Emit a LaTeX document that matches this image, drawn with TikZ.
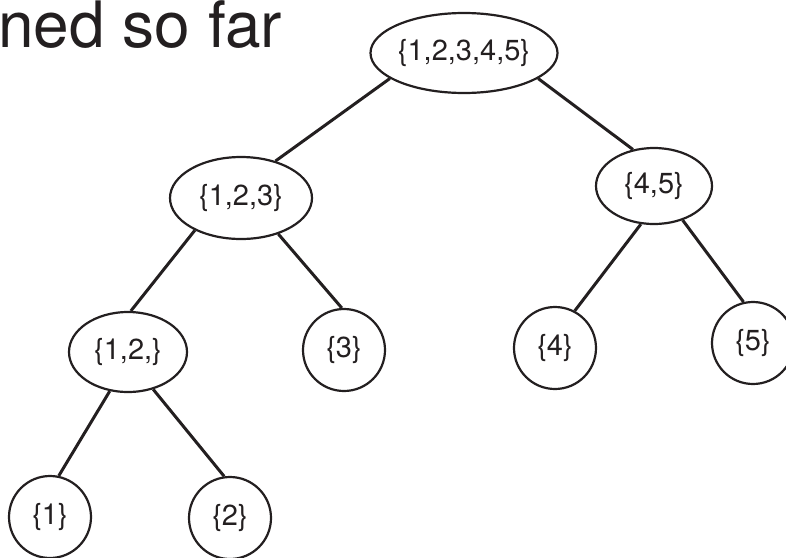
\documentclass[tikz,border=0pt]{standalone}
\usepackage{fontspec}
\setmainfont{TeX Gyre Heros}
\usetikzlibrary{shapes.geometric}
\definecolor{ink}{HTML}{231F20}
\def\rr{82}% diameter of the leaf circles

\begin{document}
\begin{tikzpicture}[x=1pt,y=-1pt,
    set/.style={draw=ink,line width=2.2pt,ellipse,inner sep=0pt,text=ink,font=\fontsize{29}{31}\selectfont},
    leaf/.style={draw=ink,line width=2.2pt,circle,inner sep=0pt,minimum size=\rr,text=ink,font=\fontsize{29}{31}\selectfont},
    link/.style={draw=ink,line width=3pt}]
        %
        \useasboundingbox (0,0) rectangle (786,557);
        \clip (0,0) rectangle (786,557);
        %
        \node[anchor=base west,inner sep=0pt,text=ink,font=\fontsize{64}{70}\selectfont] (title) at (-2,47) {ned so far};
        %
        \node[set,minimum width=180,minimum height=80] (root) at (464,53) {\{1,2,3,4,5\}};
        \node[set,minimum width=142,minimum height=82] (n123) at (241,198) {\{1,2,3\}};
        \node[set,minimum width=116,minimum height=76] (n45) at (654,186) {\{4,5\}};
        \node[set,minimum width=118,minimum height=80] (n12) at (128,352) {\{1,2,\}};
        %
        \node[leaf] (n3) at (344,350) {\{3\}};
        \node[leaf] (n4) at (555,348) {\{4\}};
        \node[leaf] (n5) at (753,343) {\{5\}};
        \node[leaf] (n1) at (50,517) {\{1\}};
        \node[leaf] (n2) at (230,518) {\{2\}};
        %
        \draw[link] (root.199) -- (n123.47);
        \draw[link] (root.341) -- (n45.120);
        \draw[link] (n123.215) -- (n12.86);
        \draw[link] (n123.316) -- (n3.93);
        \draw[link] (n45.251) -- (n4.62);
        \draw[link] (n45.310) -- (n5.103);
        \draw[link] (n12.245) -- (n1.78);
        \draw[link] (n12.304) -- (n2.98);
      \end{tikzpicture}
\end{document}
